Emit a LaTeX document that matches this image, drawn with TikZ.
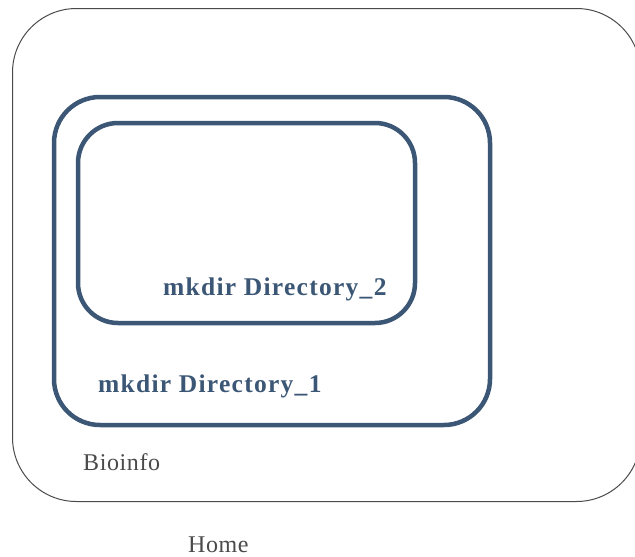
\documentclass[tikz,border=0pt]{standalone}
\usepackage{fontspec}
\setmainfont{Liberation Serif}
\newfontfamily\dirfont[LetterSpace=5]{Liberation Serif}
\newfontfamily\placefont[LetterSpace=2.5]{Liberation Serif}
\usetikzlibrary{positioning}
\definecolor{dirblue}{HTML}{3B5775}
\definecolor{homegray}{HTML}{4A4A4A}
\tikzset{
  homebox/.style = {draw=homegray, line width=1pt, rounded corners=64pt, inner sep=0pt},
  dirbox/.style = {draw=dirblue, line width=4.5pt, inner sep=0pt},
  dirlabel/.style = {text=dirblue, font=\dirfont\bfseries\fontsize{25.5}{28}\selectfont, inner sep=0pt, anchor=base west},
  placelabel/.style = {text=homegray, font=\placefont\fontsize{24}{27}\selectfont, inner sep=0pt, anchor=base west}
}

\begin{document}
\begin{tikzpicture}[x=1pt,y=-1pt]
        \clip (0,0) rectangle (635,557);
        %boxes
        \node[homebox, minimum width=628pt, minimum height=493pt] (home) at (326.5,255) {};
        \node[dirbox, rounded corners=46pt, minimum width=436pt, minimum height=328pt] (dirone) at (272,261) {};
        \node[dirbox, rounded corners=40pt, minimum width=337pt, minimum height=200pt] (dirtwo) at (246.5,223) {};
        %labels
        \node[dirlabel] (dirtwolabel) at (163,295) {mkdir Directory\_2};
        \node[dirlabel] (dironelabel) at (98,392) {mkdir Directory\_1};
        \node[placelabel] (bioinfo) at (83,470) {Bioinfo};
        \node[placelabel] (homelabel) at (188,552) {Home};
\end{tikzpicture}
\end{document}
